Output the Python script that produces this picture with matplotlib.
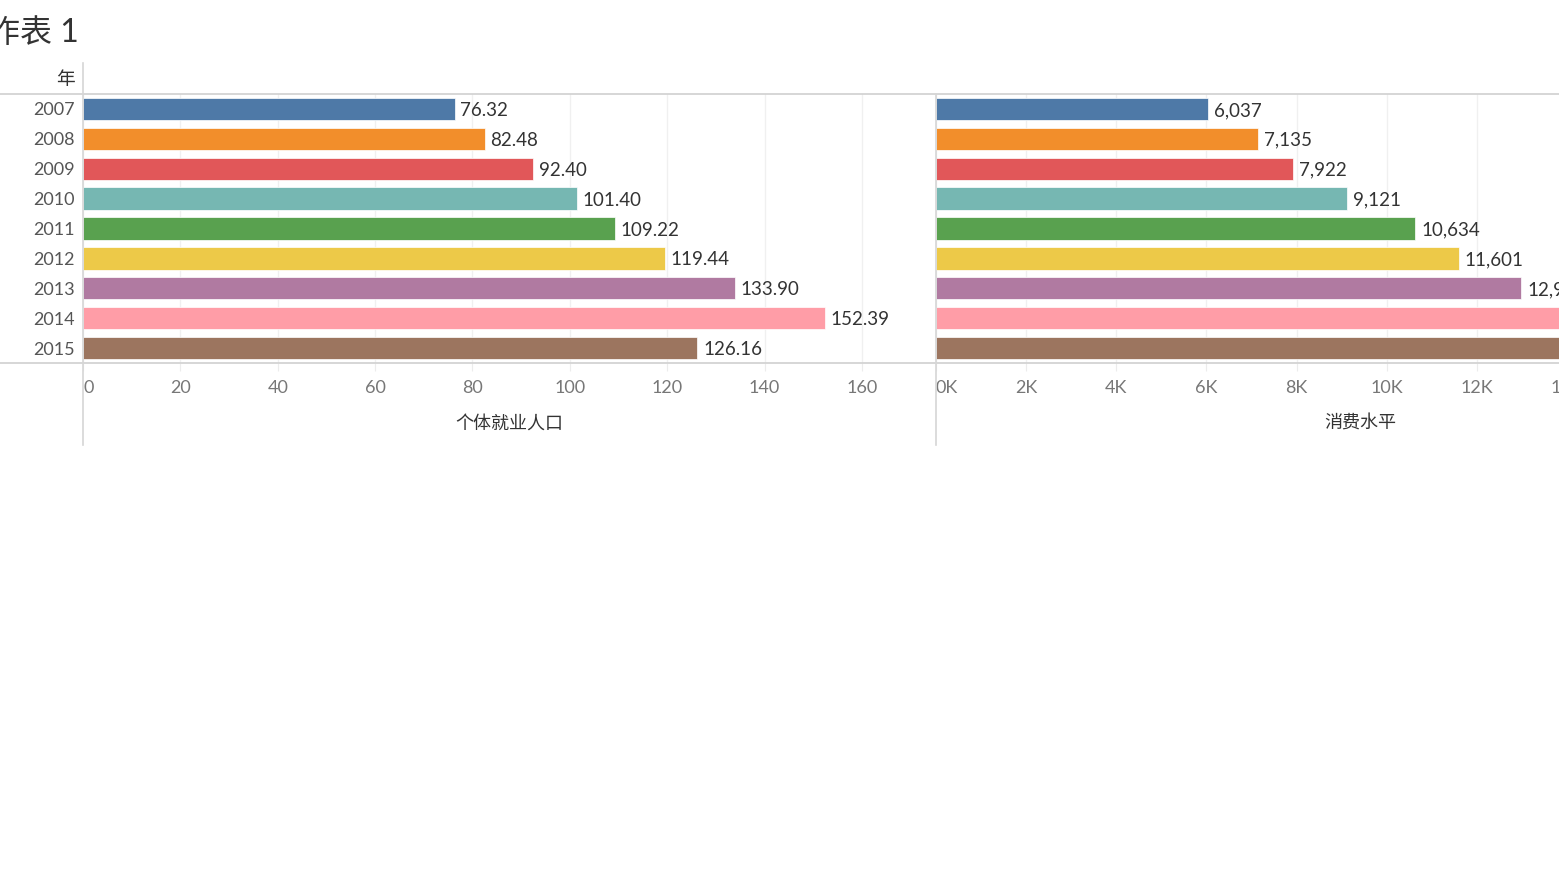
import matplotlib.pyplot as plt
from matplotlib.lines import Line2D
from matplotlib.ticker import FuncFormatter

plt.rcParams['font.family'] = ['Lato', 'Noto Sans CJK SC', 'DejaVu Sans']

# data
years = ['2007', '2008', '2009', '2010', '2011', '2012', '2013', '2014', '2015']
employed = [76.32, 82.48, 92.40, 101.40, 109.22, 119.44, 133.90, 152.39, 126.16]
consumption = [6037, 7135, 7922, 9121, 10634, 11601, 12985, 14480, 15720]
colors = ['#4e79a7', '#f28e2b', '#e15759', '#76b7b2', '#59a14f',
          '#edc948', '#b07aa1', '#ff9da7', '#9c755f']

W, H = 1559, 876
fig = plt.figure(figsize=(W / 100, H / 100), dpi=100)


def px_axes(x0, x1, y0, y1):
    return fig.add_axes([x0 / W, 1 - y1 / H, (x1 - x0) / W, (y1 - y0) / H])


def fig_line(x0, x1, y0, y1, color='#d0d0d0', lw=1.2):
    fig.add_artist(Line2D([x0 / W, x1 / W], [1 - y0 / H, 1 - y1 / H],
                          transform=fig.transFigure, color=color, lw=lw))


def style_panel(ax, xmax, step, fmt, title):
    ax.set_xlim(0, xmax)
    ax.set_ylim(len(years) - 0.5, -0.5)
    for s in ax.spines.values():
        s.set_visible(False)
    ax.set_yticks([])
    ticks = list(range(0, int(xmax) + 1, step))
    ax.set_xticks(ticks)
    ax.xaxis.set_major_formatter(FuncFormatter(fmt))
    ax.tick_params(axis='x', length=6, color='#ececec', labelcolor='#777777',
                   labelsize=13, pad=6)
    ax.grid(axis='x', color='#f0f0f0', lw=1)
    ax.set_axisbelow(True)
    labs = ax.get_xticklabels()
    labs[0].set_ha('left')
    ax.set_xlabel(title, fontsize=13, color='#333333')


# left panel
ax1 = px_axes(83, 935, 94, 363)
ax1.barh(range(len(years)), employed, height=0.75, color=colors,
         edgecolor='white', lw=0.5)
for i, v in enumerate(employed):
    ax1.text(v + 1.2, i, f'{v:.2f}', va='center_baseline', ha='left',
             fontsize=13.5, color='#333333')
style_panel(ax1, 175, 20, lambda x, p: f'{x:.0f}', '个体就业人口')
ax1.xaxis.set_label_coords(0.5, -0.193)

# right panel, wider than the visible area
ax2 = px_axes(936, 1788, 94, 363)
ax2.barh(range(len(years)), consumption, height=0.75, color=colors,
         edgecolor='white', lw=0.5)
for i, v in enumerate(consumption):
    ax2.text(v + 130, i, f'{v:,}', va='center_baseline', ha='left',
             fontsize=13.5, color='#333333', clip_on=False)
style_panel(ax2, 18900, 2000, lambda x, p: f'{x / 1000:.0f}K', '消费水平')
ax2.xaxis.set_label_coords(424 / 852, -0.193)

# row labels
for i, y in enumerate(years):
    ax1.text(-0.0095, i, y, transform=ax1.get_yaxis_transform(), ha='right',
             va='center_baseline', fontsize=13, color='#555555')
fig.text(75 / W, 1 - 80 / H, '年', ha='right', va='center', fontsize=13.5,
         color='#333333')

# title, cut at the left edge
fig.text(-44 / W, 1 - 33 / H, '工作表 1', ha='left', va='center', fontsize=23,
         color='#333333')

# frame lines
fig_line(0, W, 94, 94)
fig_line(0, W, 363, 363)
fig_line(83, 83, 63, 445, color='#d6d6d6')
fig_line(935.5, 935.5, 94, 445, color='#d6d6d6')

fig.savefig('out.png', dpi=100)
